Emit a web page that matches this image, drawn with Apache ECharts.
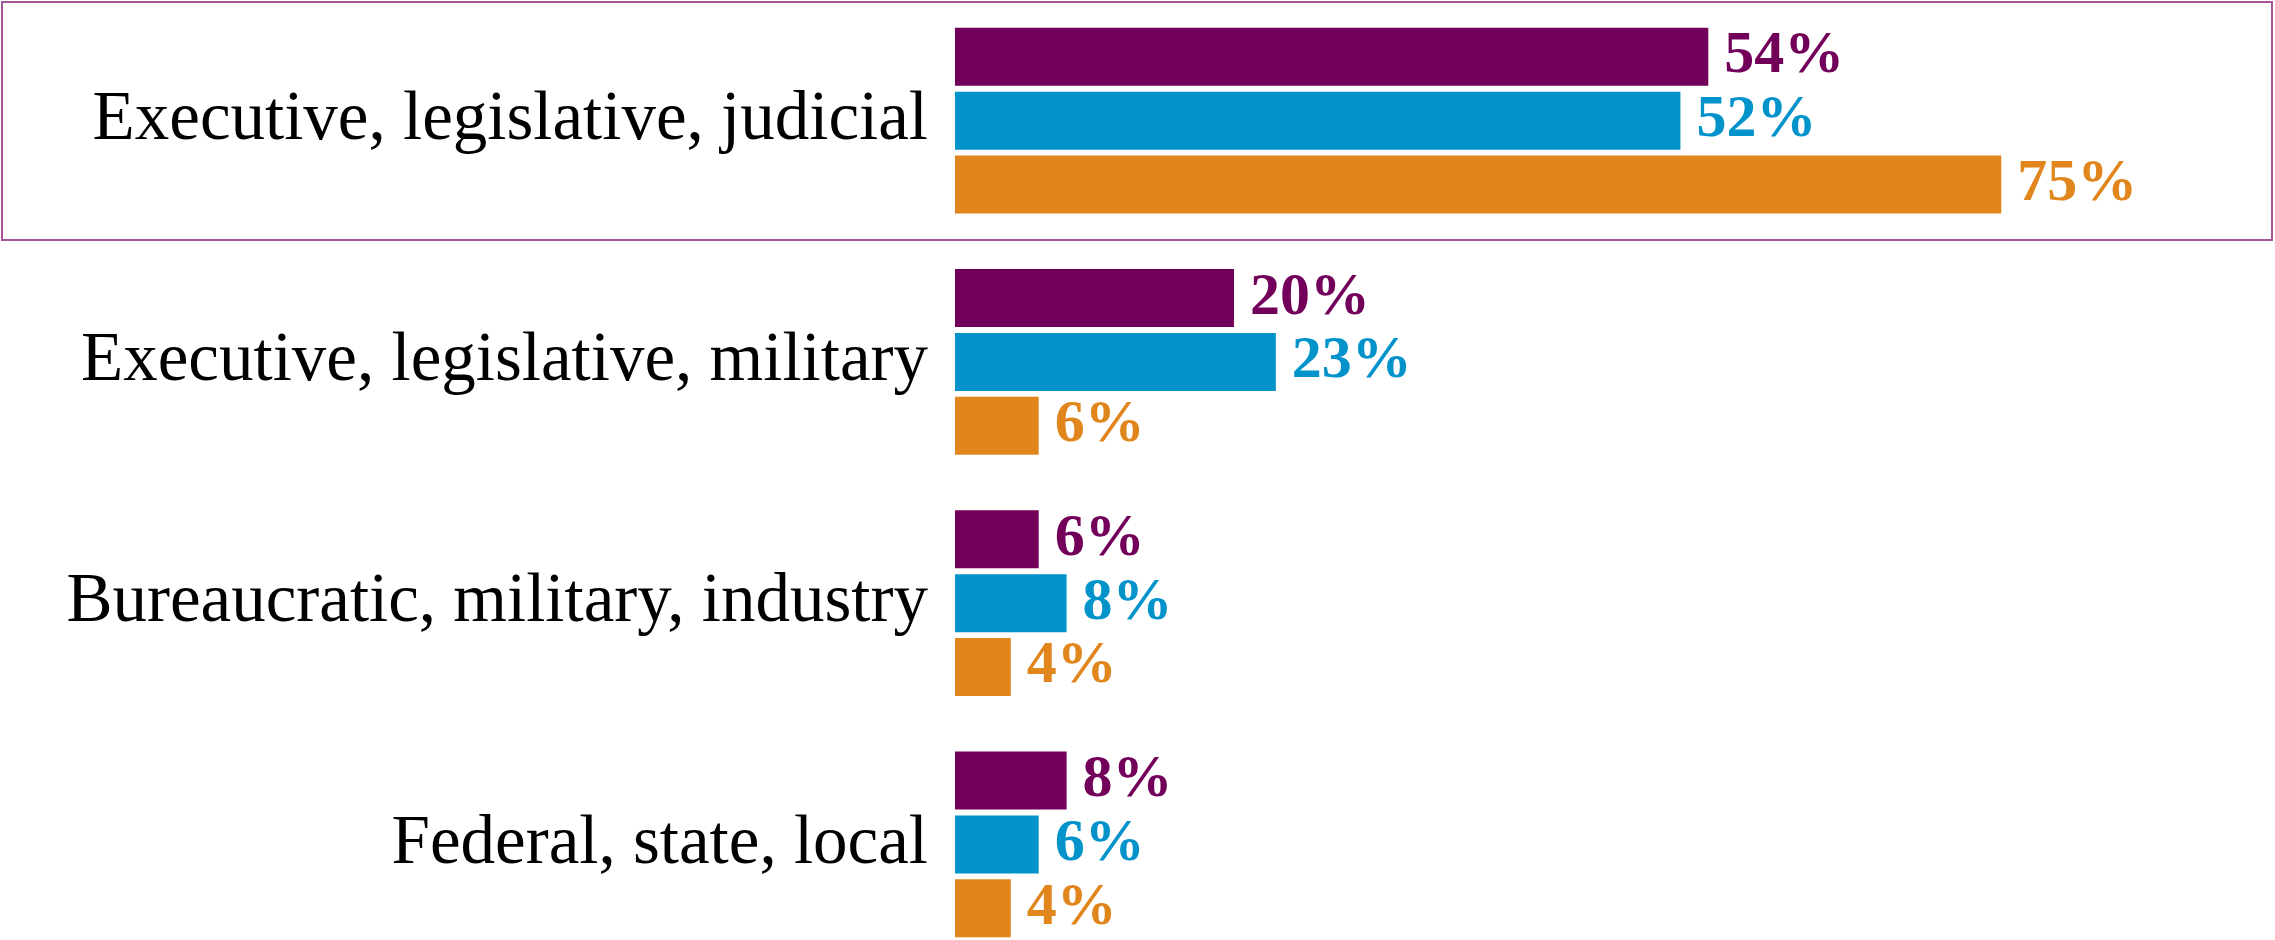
<!DOCTYPE html>
<html>
<head>
<meta charset="utf-8">
<script src="https://cdn.jsdelivr.net/npm/echarts@6/dist/echarts.min.js"></script>
<style>
  html, body { margin: 0; padding: 0; background: #fff; }
  #chart { width: 2275px; height: 940px; }
</style>
</head>
<body>
<div id="chart"></div>
<script>
// categories, top to bottom
const categories = [
  "Executive, legislative, judicial",
  "Executive, legislative, military",
  "Bureaucratic, military, industry",
  "Federal, state, local"
];
// values in percent
const purpleValues = [54, 20, 6, 8];
const blueValues = [52, 23, 8, 6];
const orangeValues = [75, 6, 4, 4];

const colors = ["#72005A", "#0393CB", "#E0861D"];

function makeSeries(name, data, color) {
  return {
    name: name,
    type: "bar",
    data: data,
    barWidth: 58,
    barGap: "10%",
    itemStyle: { color: color },
    label: {
      show: true,
      position: "right",
      distance: 16,
      formatter: "{c}%",
      color: color,
      fontFamily: "Liberation Serif",
      fontWeight: "bold",
      fontSize: 60
    }
  };
}

const chart = echarts.init(document.getElementById("chart"));
chart.setOption({
  animation: false,
  grid: { left: 955, top: 0, width: 1395, height: 965, outerBoundsMode: "none", containLabel: false },
  xAxis: {
    type: "value",
    min: 0,
    max: 100,
    show: false
  },
  yAxis: {
    type: "category",
    data: categories,
    inverse: true,
    axisLine: { show: false },
    axisTick: { show: false },
    axisLabel: {
      margin: 27,
      padding: [12, 0, 0, 0],
      color: "#000",
      fontFamily: "Liberation Serif",
      fontSize: 69
    }
  },
  // highlight frame around the first group
  graphic: [{
    type: "rect",
    shape: { x: 2, y: 2, width: 2270, height: 238 },
    style: { fill: null, stroke: "#A4559C", lineWidth: 2 }
  }],
  series: [
    makeSeries("A", purpleValues, colors[0]),
    makeSeries("B", blueValues, colors[1]),
    makeSeries("C", orangeValues, colors[2])
  ]
});
</script>
</body>
</html>
